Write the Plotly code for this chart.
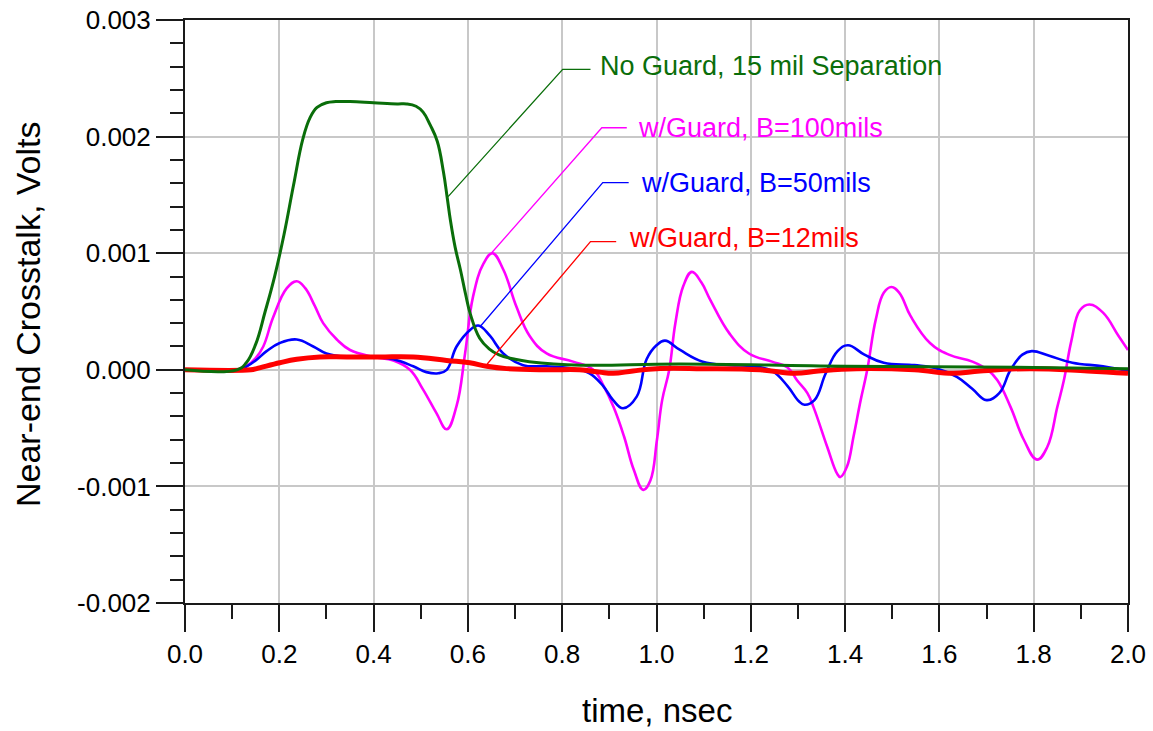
import plotly.graph_objects as go

# ---------------- data ----------------
green_t = [0.0, 0.11, 0.13, 0.15, 0.17, 0.19, 0.21, 0.23, 0.25, 0.265, 0.28, 0.30, 0.32,
           0.35, 0.40, 0.45, 0.47, 0.49, 0.505, 0.52, 0.535, 0.548, 0.556, 0.563, 0.573,
           0.584, 0.595, 0.605, 0.625, 0.645, 0.665, 0.70, 0.73, 0.84, 1.05, 1.40, 1.80, 2.0]
green_v = [0.0, 0.0, 0.00006, 0.00022, 0.00050, 0.00080, 0.00116, 0.00158, 0.00198, 0.00216,
           0.00225, 0.00229, 0.00230, 0.00230, 0.00229, 0.00228, 0.00228, 0.00226, 0.00221,
           0.00210, 0.00196, 0.00170, 0.00148, 0.00128, 0.00105, 0.00086, 0.00065, 0.00048,
           0.00027, 0.00018, 0.00013, 0.00009, 0.00007, 0.00004, 0.00005, 0.00003, 0.00002,
           0.00001]

magenta_t = [0.0, 0.11, 0.13, 0.15, 0.166, 0.187, 0.216, 0.237, 0.255, 0.275, 0.293, 0.322,
             0.35, 0.40, 0.442, 0.477, 0.505, 0.533, 0.555, 0.576, 0.594, 0.611, 0.633, 0.652,
             0.675, 0.703, 0.731, 0.767, 0.823, 0.866, 0.888, 0.909, 0.931, 0.952, 0.972,
             0.987, 1.001, 1.012, 1.027, 1.04, 1.057, 1.075, 1.095, 1.114, 1.155, 1.196,
             1.245, 1.278, 1.298, 1.32, 1.333, 1.362, 1.383, 1.39, 1.404, 1.418, 1.433,
             1.447, 1.465, 1.482, 1.498, 1.515, 1.539, 1.58, 1.62, 1.67, 1.702, 1.723,
             1.751, 1.779, 1.807, 1.829, 1.85, 1.864, 1.88, 1.898, 1.918, 1.947, 1.98, 2.0]
magenta_v = [0.0, 0.0, 0.00003, 0.0001, 0.0002, 0.00045, 0.0007, 0.00076, 0.0007, 0.00055,
             0.0004, 0.00026, 0.00017, 0.00011, 0.00008, 0.0, -0.00017, -0.00037, -0.00051,
             -0.00031, 0.00014, 0.00063, 0.00091, 0.001, 0.00086, 0.00054, 0.00029, 0.00014,
             0.00007, 0.0, -0.00014, -0.00032, -0.00057, -0.00086, -0.00103, -0.00095,
             -0.0006, -0.00026, 0.0, 0.0004, 0.00072, 0.00084, 0.00075, 0.0006, 0.00031,
             0.00014, 0.00007, 0.00002, -0.00009, -0.0002, -0.00032, -0.00066, -0.00089,
             -0.00092, -0.00083, -0.00057, -0.00026, 0.0, 0.00043, 0.00066, 0.00071, 0.00066,
             0.00046, 0.00023, 0.00013, 0.00007, 0.0, -0.00009, -0.00032, -0.0006, -0.00077,
             -0.00066, -0.00032, -0.00009, 0.00025, 0.00051, 0.00056, 0.00049, 0.00029, 0.00017]

blue_t = [0.0, 0.11, 0.131, 0.15, 0.173, 0.201, 0.237, 0.272, 0.30, 0.343, 0.40, 0.442, 0.484,
          0.512, 0.537, 0.555, 0.576, 0.604, 0.622, 0.647, 0.675, 0.717, 0.767, 0.823, 0.858,
          0.887, 0.908, 0.929, 0.958, 0.979, 1.0, 1.018, 1.05, 1.098, 1.155, 1.204, 1.245,
          1.278, 1.302, 1.314, 1.335, 1.359, 1.384, 1.406, 1.441, 1.482, 1.547, 1.596, 1.637,
          1.669, 1.70, 1.727, 1.751, 1.776, 1.796, 1.833, 1.882, 1.947, 2.0]
blue_v = [0.0, 0.0, 0.00003, 0.00008, 0.00016, 0.00023, 0.00026, 0.0002, 0.00014, 0.00011,
          0.00011, 0.00009, 0.00003, -0.00002, -0.00003, 0.0, 0.0002, 0.00034, 0.00038,
          0.00029, 0.00014, 0.00004, 0.00003, 0.00001, -0.00003, -0.00014, -0.00026, -0.00033,
          -0.00023, 0.00009, 0.00021, 0.00025, 0.00017, 0.00007, 0.00004, 0.00003, -0.00001,
          -0.00014, -0.00027, -0.0003, -0.00026, -0.00003, 0.00016, 0.00021, 0.00013, 0.00006,
          0.00004, 0.00001, -0.00006, -0.00016, -0.00026, -0.0002, 0.0, 0.00013, 0.00016,
          0.00012, 0.00006, 0.00003, -0.00001]

red_t = [0.0, 0.14, 0.152, 0.201, 0.237, 0.286, 0.343, 0.413, 0.484, 0.555, 0.604, 0.64, 0.682,
         0.767, 0.837, 0.879, 0.908, 0.95, 1.0, 1.098, 1.22, 1.294, 1.343, 1.424, 1.547, 1.629,
         1.686, 1.792, 1.914, 2.0]
red_v = [0.0, 0.0, 0.00001, 0.00006, 0.00009, 0.00011, 0.00011, 0.00011, 0.00011, 0.00008,
         0.00006, 0.00003, 0.00001, 0.0, 0.0, -0.00002, -0.00003, -0.00001, 0.00001, 0.00001,
         0.0, -0.00003, -0.00001, 0.00001, 0.0, -0.00003, -0.00001, 0.00001, -0.00001, -0.00003]

labels = ["No Guard, 15 mil Separation", "w/Guard, B=100mils", "w/Guard, B=50mils",
          "w/Guard, B=12mils"]
# leader lines: (curve point, elbow, end) in data units
leader_green_x = [0.558, 0.801, 0.860]
leader_green_y = [0.001485, 0.002577, 0.002577]
leader_mag_x = [0.650, 0.884, 0.937]
leader_mag_y = [0.001002, 0.002076, 0.002076]
leader_blue_x = [0.627, 0.886, 0.941]
leader_blue_y = [0.000376, 0.001605, 0.001605]
leader_red_x = [0.641, 0.860, 0.9145]
leader_red_y = [0.00005, 0.001099, 0.001099]
label_x = [0.876, 0.9566, 0.963, 0.9375]
label_y = [0.002605, 0.002074, 0.0016, 0.001128]

x_tickvals = [0.0, 0.2, 0.4, 0.6, 0.8, 1.0, 1.2, 1.4, 1.6, 1.8, 2.0]
x_ticktext = ["0.0", "0.2", "0.4", "0.6", "0.8", "1.0", "1.2", "1.4", "1.6", "1.8", "2.0"]
y_tickvals = [0.003, 0.002, 0.001, 0.0, -0.001, -0.002]
y_ticktext = ["0.003", "0.002", "0.001", "0.000", "-0.001", "-0.002"]

GREEN = "#0a6e0a"
MAG = "#ff00ff"
BLUE = "#0000ff"
RED = "#ff0000"
FONT = "Arial, 'Liberation Sans', sans-serif"

fig = go.Figure()


def curve(t, v, color, width):
    fig.add_trace(go.Scatter(x=t, y=v, mode="lines",
                             line=dict(color=color, width=width, shape="spline", smoothing=1.2),
                             hoverinfo="skip", showlegend=False))


curve(magenta_t, magenta_v, MAG, 2.6)
curve(blue_t, blue_v, BLUE, 2.6)
curve(red_t, red_v, RED, 5)
curve(green_t, green_v, GREEN, 3)

for lx, ly, col in [(leader_green_x, leader_green_y, GREEN), (leader_mag_x, leader_mag_y, MAG),
                    (leader_blue_x, leader_blue_y, BLUE), (leader_red_x, leader_red_y, RED)]:
    fig.add_trace(go.Scatter(x=lx, y=ly, mode="lines", line=dict(color=col, width=1.3),
                             hoverinfo="skip", showlegend=False))

for txt, x, y, col in zip(labels, label_x, label_y, [GREEN, MAG, BLUE, RED]):
    fig.add_annotation(x=x, y=y, xref="x", yref="y", text=txt, showarrow=False,
                       xanchor="left", yanchor="middle",
                       font=dict(family=FONT, size=27, color=col))

L, R, T, B = 185, 25, 20, 128
W, H = 1153, 731
pw, ph = W - L - R, H - T - B

# axis titles placed as annotations at measured positions
fig.add_annotation(x=(657 - L) / pw, y=(H - B - 710) / ph, xref="paper", yref="paper",
                   text="time, nsec", showarrow=False, xanchor="center", yanchor="middle",
                   font=dict(family=FONT, size=33, color="#000"))
fig.add_annotation(x=(28 - L) / pw, y=(H - B - 314) / ph, xref="paper", yref="paper",
                   text="Near-end Crosstalk, Volts", showarrow=False, textangle=-90,
                   xanchor="center", yanchor="middle",
                   font=dict(family=FONT, size=34, color="#000"))

axis_common = dict(showline=True, linecolor="#1a1a1a", linewidth=2, mirror=True,
                   showgrid=True, gridcolor="#c8c8c8", gridwidth=1.5, zeroline=False,
                   ticks="outside", tickcolor="#1a1a1a", tickwidth=2, ticklen=27,
                   tickfont=dict(family=FONT, size=26, color="#000"))

fig.update_xaxes(range=[0, 2.0], tickmode="array", tickvals=x_tickvals, ticktext=x_ticktext,
                 minor=dict(ticks="outside", ticklen=14, tickwidth=2, tickcolor="#1a1a1a",
                            dtick=0.1, tick0=0, showgrid=False),
                 **axis_common)
fig.update_yaxes(range=[-0.002, 0.003], tickmode="array", tickvals=y_tickvals,
                 ticktext=y_ticktext,
                 minor=dict(ticks="outside", ticklen=13, tickwidth=2, tickcolor="#1a1a1a",
                            dtick=0.0002, tick0=0, showgrid=False),
                 **axis_common)

fig.update_layout(width=W, height=H, margin=dict(l=L, r=R, t=T, b=B, autoexpand=False),
                  paper_bgcolor="white", plot_bgcolor="white", showlegend=False,
                  font=dict(family=FONT))

fig.write_html("out.html", config={"displayModeBar": False},
               post_script="document.body.style.margin='0';")
